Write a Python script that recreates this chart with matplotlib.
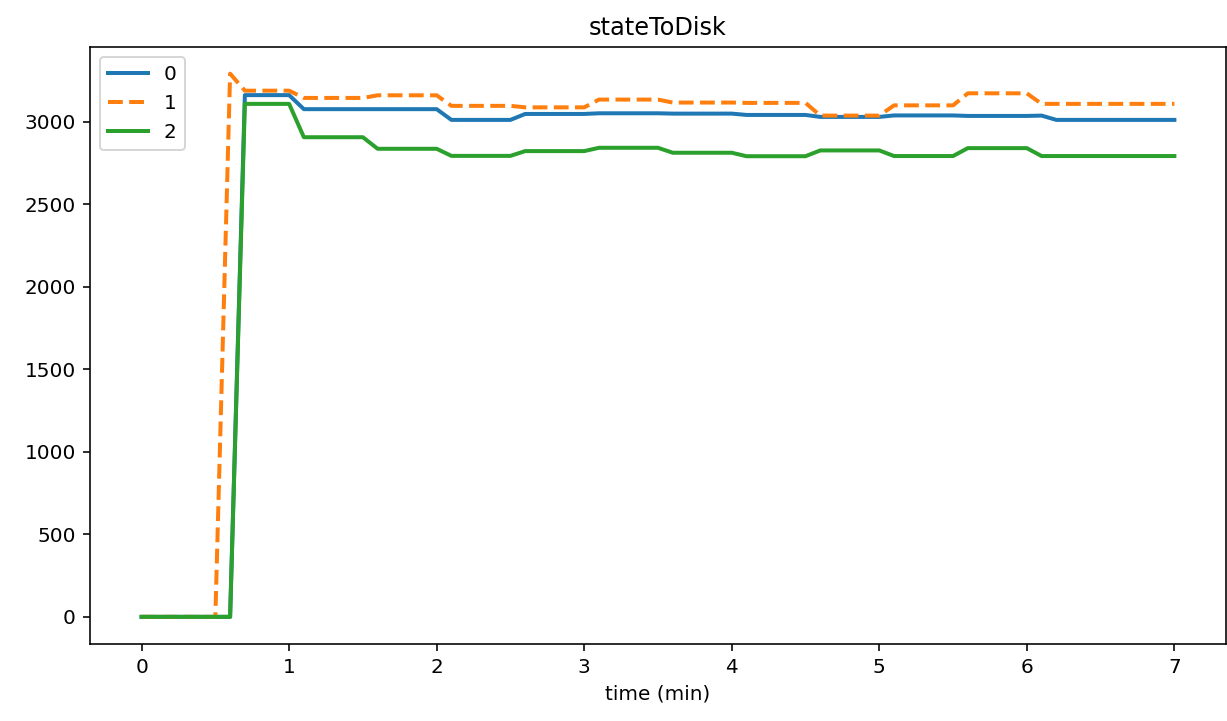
import numpy as np
import matplotlib
matplotlib.use('Agg')
import matplotlib.pyplot as plt

# time axis, one sample every 0.1 min
time_min = np.round(np.linspace(0, 7, 71), 1)

# series values
series_0 = [0, 0, 0, 0, 0, 0, 0,
            3160, 3160, 3160, 3160,
            3075, 3075, 3075, 3075, 3075, 3075, 3075, 3075, 3075, 3075,
            3010, 3010, 3010, 3010, 3010,
            3046, 3046, 3046, 3046, 3046,
            3050, 3050, 3050, 3050, 3050,
            3048, 3048, 3048, 3048, 3048,
            3040, 3040, 3040, 3040, 3040,
            3028, 3028, 3028, 3028, 3028,
            3037, 3037, 3037, 3037, 3037,
            3034, 3034, 3034, 3034, 3034, 3036,
            3010, 3010, 3010, 3010, 3010, 3010, 3010, 3010, 3010]

series_1 = [0, 0, 0, 0, 0, 0,
            3290,
            3187, 3187, 3187, 3187,
            3143, 3143, 3143, 3143, 3143,
            3159, 3159, 3159, 3159, 3159,
            3095, 3095, 3095, 3095, 3095,
            3086, 3086, 3086, 3086, 3086,
            3133, 3133, 3133, 3133, 3133,
            3115, 3115, 3115, 3115, 3115, 3113, 3113, 3113, 3113, 3113,
            3036, 3036, 3036, 3036, 3036,
            3098, 3098, 3098, 3098, 3098,
            3171, 3171, 3171, 3171, 3171,
            3107, 3107, 3107, 3107, 3107, 3107, 3107, 3107, 3107, 3107]

series_2 = [0, 0, 0, 0, 0, 0, 0,
            3107, 3107, 3107, 3107,
            2905, 2905, 2905, 2905, 2905,
            2835, 2835, 2835, 2835, 2835,
            2792, 2792, 2792, 2792, 2792,
            2821, 2821, 2821, 2821, 2821,
            2841, 2841, 2841, 2841, 2841,
            2811, 2811, 2811, 2811, 2811,
            2790, 2790, 2790, 2790, 2790,
            2825, 2825, 2825, 2825, 2825,
            2791, 2791, 2791, 2791, 2791,
            2839, 2839, 2839, 2839, 2839,
            2791, 2791, 2791, 2791, 2791, 2791, 2791, 2791, 2791, 2791]

labels = ['0', '1', '2']

fig, ax = plt.subplots(figsize=(1227 / 144, 721 / 144), dpi=144)
fig.subplots_adjust(left=0.0733, right=0.9992, bottom=0.1068, top=0.9355)

ax.plot(time_min, series_0, label=labels[0], color='#1f77b4', lw=2)
ax.plot(time_min, series_1, label=labels[1], color='#ff7f0e', lw=2, ls='--')
ax.plot(time_min, series_2, label=labels[2], color='#2ca02c', lw=2)

ax.set_title('stateToDisk')
ax.set_xlabel('time (min)')
ax.legend(loc='upper left')

fig.savefig('out.png', dpi=144)
